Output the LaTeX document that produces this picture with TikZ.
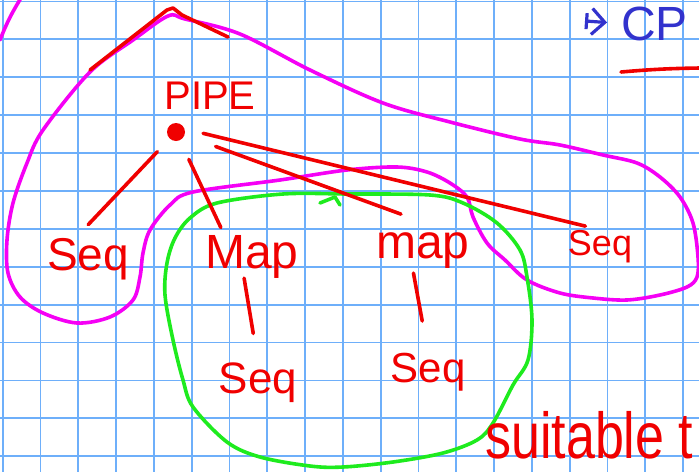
\documentclass[tikz,border=0pt]{standalone}
\usepackage{fontspec}
\setmainfont{Liberation Sans}
\usetikzlibrary{arrows.meta}
\definecolor{gridblue}{RGB}{110,175,250}
\definecolor{hmag}{RGB}{245,0,245}
\definecolor{hgreen}{RGB}{30,235,30}
\definecolor{hred}{RGB}{240,0,0}
\definecolor{hblue}{RGB}{50,50,205}
\begin{document}
\begin{tikzpicture}[x=1pt,y=-1pt,
  hand/.style={text=hred, inner sep=0pt, anchor=base, font=\fontsize{46}{46}\selectfont},
  con/.style={draw=hred, line width=3.6pt, line cap=round, line join=round},
  loopline/.style={line width=3.6pt, line cap=round, line join=round},
  gridline/.style={draw=gridblue, line width=1.8pt}]
\useasboundingbox (0,0) rectangle (699,472);
\fill[white] (0,0) rectangle (699,472);
\clip (0,0) rectangle (699,472);
% grid
\foreach \i in {0,...,18} \draw[gridline] ({2.7+37.8*\i},0) -- ({2.7+37.8*\i},472);
\foreach \j in {0,...,12} \draw[gridline] (0,{1.4+37.9*\j}) -- (699,{1.4+37.9*\j});
% magenta loop
\draw[hmag, loopline] plot[smooth cycle, tension=0.55] coordinates {
 (168,16) (185,19) (240,34) (310,70) (383,103) (450,122) (520,139) (560,145)
 (603,155) (637,163) (660,177) (680,197) (693,223) (698,257) (697,277) (687,287)
 (660,295) (627,300) (593,298) (560,293) (527,280) (505,260) (487,243) (473,217)
 (467,197) (450,183) (427,172) (397,167) (347,170) (280,180) (193,192) (170,205)
 (150,230) (143,253) (140,277) (133,300) (110,317) (77,323) (43,313) (20,297)
 (8,273) (7,240) (13,203) (27,163) (43,130) (90,72) (133,40)};
\draw[hmag, loopline] (0,40) to[bend left=5] (21,-2);
% green loop
\draw[hgreen, loopline] plot[smooth cycle, tension=0.55] coordinates {
 (190,218) (217,203) (283,194) (347,194) (430,195) (463,203) (497,223) (520,250)
 (527,277) (532,320) (528,360) (513,385) (493,423) (477,440) (443,453) (393,462)
 (343,467) (310,466) (260,457) (227,442) (193,407) (183,380) (173,340) (165,295)
 (167,263) (175,238)};
\draw[hgreen, loopline] (320,203) -- (335,197) -- (340,205);
% red roof stroke
\draw[con] (90,70) -- (167,10) -- (173,8) -- (182,15) -- (228,37);
% nodes
\node[circle, fill=hred, minimum size=18pt, inner sep=0pt] (dot) at (176,132) {};
\node[hand, font=\fontsize{40}{40}\selectfont] (pipe) at (210,109) {PIPE};
\node[hand] (seqL) at (88,270) {Seq};
\node[hand, font=\fontsize{48}{48}\selectfont] (MapA) at (252,268) {Map};
\node[hand, font=\fontsize{48}{48}\selectfont] (mapB) at (423,258) {map};
\node[hand, font=\fontsize{36}{36}\selectfont] (seqR) at (600,255) {Seq};
\node[hand, font=\fontsize{44}{44}\selectfont] (seqA) at (258,393) {Seq};
\node[hand, font=\fontsize{42}{42}\selectfont] (seqB) at (428,382) {Seq};
\node[hand, anchor=base west, font=\fontsize{52}{52}\selectfont] (suit) at (485,458) {\scalebox{1}[1.25]{suitable t}};
\node[text=hblue, inner sep=0pt, anchor=base west, font=\fontsize{48}{48}\selectfont] (cp) at (621,40) {CP};
\coordinate (arrS) at (585,21);
% connectors
\draw[con, shorten <=18pt, shorten >=18pt] (dot) -- (seqL.120);
\draw[con, shorten <=21pt, shorten >=8pt] (dot) -- (MapA.142);
\draw[con, shorten <=33pt, shorten >=52pt] (dot) -- (mapB.34);
\draw[con, shorten <=19pt, shorten >=15pt] (dot.20) -- (seqR.north);
\draw[con, shorten >=29pt] (MapA.250) -- (seqA.north);
\draw[con, shorten <=5pt, shorten >=32pt] (mapB.240) -- (seqB.north);
\draw[hblue, line width=3.2pt, line cap=round, line join=round,
  {Bar[width=16pt,line width=3.2pt]}-{Straight Barb[length=13pt,width=26pt,line width=3.2pt]}, shorten >=14pt] (arrS) -- (cp.west);
\draw[con] (621,72) to[bend left=2] (700,68);
\end{tikzpicture}
\end{document}
